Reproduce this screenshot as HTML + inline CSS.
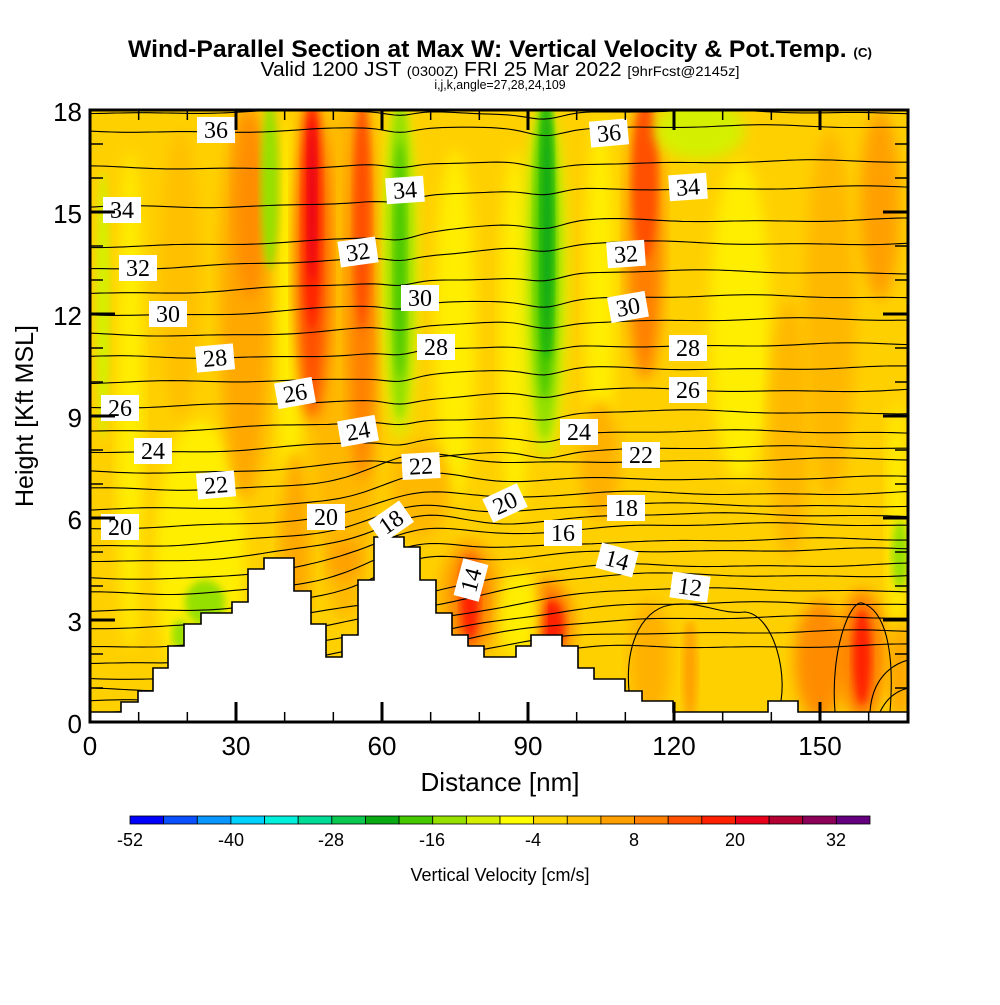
<!DOCTYPE html>
<html><head><meta charset="utf-8">
<style>
html,body{margin:0;padding:0;background:#fff;}
body{width:1000px;height:1000px;overflow:hidden;font-family:"Liberation Sans",sans-serif;}
</style></head>
<body>
<svg id="s" width="1000" height="1000" xmlns="http://www.w3.org/2000/svg">
<defs>
<clipPath id="pc"><rect x="90" y="110" width="818" height="612"/></clipPath>
<filter id="bl" x="-20%" y="-20%" width="140%" height="140%"><feGaussianBlur stdDeviation="7"/></filter>
<filter id="bl2" x="-20%" y="-20%" width="140%" height="140%"><feGaussianBlur stdDeviation="4"/></filter>
</defs>
<g clip-path="url(#pc)">
<rect x="90" y="110" width="818" height="612" fill="#ffd000"/>
<g id="field"></g>
<g id="cont" fill="none" stroke="#000" stroke-width="1.1"></g>
<polygon id="terr" fill="#fff" stroke="#000" stroke-width="1.6"/>
</g>
<g id="labs"></g>
<rect x="90" y="110" width="818" height="612" fill="none" stroke="#000" stroke-width="3"/>
<g id="ticks" stroke="#000"></g>
<g font-family="Liberation Sans, sans-serif" fill="#000">
<text x="500" y="57" text-anchor="middle" font-size="24" font-weight="bold" transform="translate(500 0) scale(1.03 1) translate(-500 0)">Wind-Parallel Section at Max W: Vertical Velocity &amp; Pot.Temp. <tspan font-size="13">(C)</tspan></text>
<text x="500" y="76" text-anchor="middle" font-size="20" transform="translate(500 0) scale(1.05 1) translate(-500 0)">Valid 1200 JST <tspan font-size="14">(0300Z)</tspan> FRI 25 Mar 2022 <tspan font-size="14">[9hrFcst@2145z]</tspan></text>
<text x="500" y="89" text-anchor="middle" font-size="13" transform="translate(500 0) scale(0.95 1) translate(-500 0)">i,j,k,angle=27,28,24,109</text>
<g font-size="26" text-anchor="middle">
<text x="90" y="755">0</text><text x="236" y="755">30</text><text x="382" y="755">60</text><text x="528" y="755">90</text><text x="674" y="755">120</text><text x="820" y="755">150</text>
</g>
<g font-size="26" text-anchor="end">
<text x="82" y="733">0</text><text x="82" y="631">3</text><text x="82" y="529">6</text><text x="82" y="427">9</text><text x="82" y="325">12</text><text x="82" y="223">15</text><text x="82" y="121">18</text>
</g>
<text x="500" y="791" text-anchor="middle" font-size="26">Distance [nm]</text>
<text transform="translate(33 416) rotate(-90)" text-anchor="middle" font-size="25">Height [Kft MSL]</text>
<g id="cb"></g>
<g font-size="18" text-anchor="middle">
<text x="130" y="846">-52</text><text x="231" y="846">-40</text><text x="331" y="846">-28</text><text x="432" y="846">-16</text><text x="533" y="846">-4</text><text x="634" y="846">8</text><text x="735" y="846">20</text><text x="836" y="846">32</text>
</g>
<text x="500" y="881" text-anchor="middle" font-size="18">Vertical Velocity [cm/s]</text>
</g>
</svg>
<script>
var NS="http://www.w3.org/2000/svg";
function el(p,t,a,txt){var e=document.createElementNS(NS,t);for(var k in a)e.setAttribute(k,a[k]);if(txt!==undefined)e.textContent=txt;p.appendChild(e);return e;}
var cols=["#0000ff","#0a50ff","#0a96ff","#00d2ff","#00f0dc","#00dc96","#0ac850","#0aaa14","#46c800","#96e000","#d4f000","#ffff00","#ffd700","#ffc000","#ffa000","#ff7f00","#ff5000","#ff2000","#e8001a","#b40032","#8c005a","#640080"];
var cb=document.getElementById("cb");var w=740/22;
for(var i=0;i<22;i++)el(cb,"rect",{x:130+i*w,y:816,width:w,height:8,fill:cols[i],stroke:"#000","stroke-width":0.8});
var f=document.getElementById("field");
function blob(cx,y1,y2,wd,c,b){el(f,"ellipse",{cx:cx,cy:(y1+y2)/2,rx:wd/2,ry:(y2-y1)/2,fill:c,filter:"url(#"+(b||"bl")+")"});}
blob(130,150,650,26,"#ffee00");
blob(200,420,700,90,"#ffee00");
blob(290,120,520,26,"#ffee00");
blob(455,150,500,40,"#ffee00");
blob(515,150,520,30,"#ffee00");
blob(600,120,480,30,"#ffee00");
blob(740,160,480,60,"#ffee00");
blob(897,400,640,20,"#ffee00");
blob(245,100,500,50,"#ffa800");
blob(250,110,300,30,"#ff8c00");
blob(345,100,620,70,"#ffb800");
blob(312,100,420,34,"#ff5000");
blob(312,100,330,18,"#ff2000","bl2");
blob(312,120,280,8,"#e8001a","bl2");
blob(362,100,480,28,"#ff7f00");
blob(362,100,330,16,"#ff5000","bl2");
blob(645,100,380,36,"#ff7f00");
blob(645,100,260,24,"#ff5000","bl2");
blob(600,400,520,40,"#ffb000");
blob(790,300,560,40,"#ffb800");
blob(830,130,500,50,"#ffb800");
blob(880,110,300,40,"#ffa000");
blob(420,440,540,60,"#ffb800");
blob(295,450,640,30,"#ffa800");
blob(180,130,420,40,"#ffc000");
blob(270,100,270,18,"#96e000","bl2");
blob(400,100,440,36,"#d4f000");
blob(400,100,420,26,"#96e000","bl2");
blob(400,140,380,12,"#46c800","bl2");
blob(545,100,460,44,"#d4f000");
blob(545,100,440,32,"#96e000","bl2");
blob(545,100,400,20,"#46c800","bl2");
blob(547,100,360,12,"#0aaa14","bl2");
blob(700,100,160,90,"#d4f000");
blob(103,170,440,14,"#d4f000","bl2");
blob(900,520,590,16,"#96e000","bl2");
blob(470,540,660,60,"#ffa000");
blob(470,550,650,34,"#ff7f00","bl2");
blob(470,560,640,18,"#ff2000","bl2");
blob(548,580,670,50,"#ff7f00");
blob(552,600,650,24,"#ff2000","bl2");
blob(520,570,660,40,"#ffee00");
blob(650,600,720,40,"#ffb000");
blob(690,620,720,14,"#ffa000","bl2");
blob(820,600,720,50,"#ff8c00");
blob(862,590,720,46,"#ff7f00");
blob(862,610,705,18,"#ff2000","bl2");
blob(900,620,720,20,"#ffa000");
blob(205,580,625,40,"#96e000","bl2");
blob(180,620,650,16,"#96e000","bl2");
blob(345,540,580,30,"#ffa000");
var T=[[90,712],[121,712],[121,702],[138,702],[138,691],[153,691],[153,668],[168,668],[168,646],[184,646],[184,624],[201,624],[201,613],[232,613],[232,602],[248,602],[248,569],[264,569],[264,558],[294,558],[294,591],[311,591],[311,624],[326,624],[326,657],[342,657],[342,635],[358,635],[358,580],[374,580],[374,537],[404,537],[404,547],[420,547],[420,580],[436,580],[436,613],[452,613],[452,635],[468,635],[468,646],[484,646],[484,657],[516,657],[516,646],[531,646],[531,635],[562,635],[562,646],[578,646],[578,668],[594,668],[594,679],[625,679],[625,691],[642,691],[642,701],[673,701],[673,712],[768,712],[768,701],[798,701],[798,712],[910,712],[910,725],[88,725]];
document.getElementById("terr").setAttribute("points",T.map(function(p){return p.join(",")}).join(" "));
var YL={37:112,36:131,35:168,34:208,33:247,32:268,31:292,30:314,29:335,28:358,27:383,26:407,25:430,24:451,23:472,22:490,21:510,20:528,19:545,18:560,17:578,16:594,15:612,14:628,13:646,12:662,11:678,10:690,9:702,8:712};
var YR={37:112,36:127,35:162,34:188,33:220,32:243,31:272,30:297,29:320,28:345,27:368,26:390,25:412,24:432,23:448,22:460,21:478,20:493,19:505,18:515,17:525,16:540,15:550,14:565,13:575,12:590};
var c=document.getElementById("cont");
for(var th=8;th<=37;th++){
 var d="",started=false;
 for(var x=88;x<=910;x+=6){
  var t=Math.min(1,Math.max(0,(x-150)/500));t=t*t*(3-2*t);
  var yl=YL[th],yr=YR[th]!==undefined?YR[th]:(YR[12]+(12-th)*14);
  var y=yl*(1-t)+yr*t;
  y+=1.5*Math.sin(x/60+th)+0.8*Math.sin(x/23+th*2);
  y+=6*Math.exp(-Math.pow((x-545)/25,2))*(th>22?1:0);
  y+=4*Math.exp(-Math.pow((x-400)/20,2))*(th>22?1:0);
  if(th<=22&&th>=15) y-=18*Math.exp(-Math.pow((x-420)/60,2));
  d+=(started?"L":"M")+x+","+y.toFixed(1);started=true;
 }
 el(c,"path",{d:d});
}
el(c,"path",{d:"M632,712 C620,650 640,610 670,605 C700,600 720,615 745,612 C775,615 790,680 778,712"});
el(c,"path",{d:"M835,712 C830,650 850,600 862,603 C885,610 895,650 890,712"});
el(c,"path",{d:"M870,712 C872,680 890,665 908,660"});
el(c,"path",{d:"M880,712 C888,695 900,690 908,688"});
var L=[["36",216,130,0],["36",609,133,-5],["34",122,210,0],["34",405,190,-4],["34",688,187,-4],["32",138,268,0],["32",358,252,-8],["32",626,254,-4],["30",168,314,0],["30",420,298,0],["30",628,307,-10],["28",215,358,-5],["28",436,347,0],["28",688,348,0],["26",120,408,0],["26",295,393,-10],["26",688,390,0],["24",153,451,0],["24",358,431,-10],["24",579,432,0],["22",216,485,-5],["22",421,466,-3],["22",641,455,0],["20",120,527,0],["20",326,517,0],["20",505,503,-25],["18",391,522,-35],["18",626,508,0],["16",563,533,0],["14",617,560,15],["14",471,580,-75],["12",690,587,8]];
var lg=document.getElementById("labs");
L.forEach(function(a){
 var g=el(lg,"g",{transform:"translate("+a[1]+" "+a[2]+") rotate("+a[3]+")"});
 el(g,"rect",{x:-19,y:-13,width:38,height:26,fill:"#fff"});
 el(g,"text",{x:0,y:8,"text-anchor":"middle","font-size":"24","font-family":"Liberation Serif, serif"},a[0]);
});
var tk=document.getElementById("ticks");
for(var n=0;n<=160;n+=10){var x=90+n*146/30;var big=n%30==0;var h=big?20:10;var sw=big?3:1.5;
 el(tk,"line",{x1:x,y1:722,x2:x,y2:722-h,"stroke-width":sw});el(tk,"line",{x1:x,y1:110,x2:x,y2:110+h,"stroke-width":sw});}
for(var k=0;k<=18;k++){var y=722-k*34;var big=k%3==0;var h=big?25:13;var sw=big?3:1.5;
 el(tk,"line",{x1:90,y1:y,x2:90+h,y2:y,"stroke-width":sw});el(tk,"line",{x1:908,y1:y,x2:908-h,y2:y,"stroke-width":sw});}
</script>
</body></html>
